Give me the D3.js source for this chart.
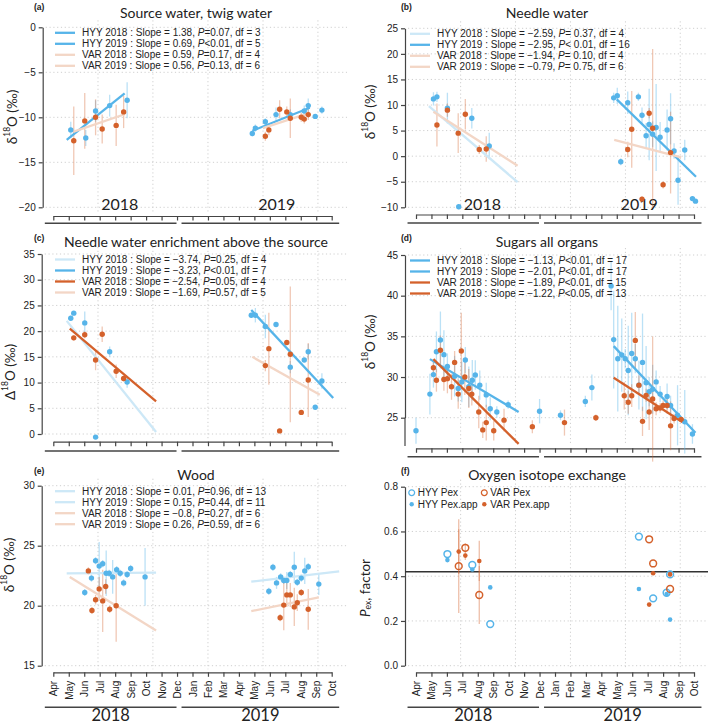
<!DOCTYPE html>
<html>
<head>
<meta charset="utf-8">
<script src="https://cdn.jsdelivr.net/npm/d3@7"></script>
<style>
  body { margin: 0; background: #fff; }
  .serif { font-family: Lato, "Open Sans", sans-serif; }
</style>
</head>
<body>
<svg id="fig" width="709" height="724"></svg>
<script>
// month axis: Apr 2018 .. Oct 2019 (month index 0..18)
const monthNames = ["Apr","May","Jun","Jul","Aug","Sep","Oct","Nov","Dec","Jan","Feb","Mar","Apr","May","Jun","Jul","Aug","Sep","Oct"];
const gridMonths = [2.89, 6.44, 10.0, 13.56, 17.11];
const yearSpans = [["2018", "2018-03-15", "2018-11-30"], ["2019", "2018-12-10", "2019-10-16"]];
const yearInside = [4.3, 14.45];

// (a) source water, twig water  [date, value, error]
const aHyy = [["2018-05-05",-11.4,0.9],["2018-06-04",-12.3,0.9],["2018-06-23",-9.3,1.2],["2018-07-21",-8.7,1.2],["2018-08-25",-8.1,2.0],
  ["2019-04-27",-11.8,0.3],["2019-05-03",-11.2,0.4],["2019-05-23",-10.5,0.4],["2019-06-13",-9.7,0.8],["2019-07-11",-9.7,0.6],
  ["2019-08-08",-9.3,0.6],["2019-08-16",-8.7,0.8],["2019-08-30",-9.9,0.2],["2019-09-12",-9.2,0.4]];
const aVar = [["2018-05-11",-12.6,3.8],["2018-06-02",-10.4,3.1],["2018-06-23",-10.0,2.0],["2018-07-06",-11.3,1.6],["2018-08-03",-10.9,2.3],["2018-08-18",-9.4,1.8],
  ["2019-05-23",-12.1,0.5],["2019-05-30",-11.4,0.6],["2019-06-20",-9.1,1.0],["2019-07-04",-9.4,0.6],["2019-07-11",-10.1,2.2],
  ["2019-08-02",-10.0,0.5],["2019-08-08",-10.2,0.5],["2019-08-16",-9.7,0.6]];
// [site, year, slope, P, df, significant, start date, start value, end date]
const aFits = [["HYY",2018,"1.38","=0.07",3,true,"2018-04-27",-12.5,"2018-08-20"],
  ["HYY",2019,"0.69","<0.01",5,true,"2019-04-27",-11.5,"2019-08-19"],
  ["VAR",2018,"0.59","=0.17",4,false,"2018-05-11",-11.6,"2018-08-20"],
  ["VAR",2019,"0.56","=0.13",6,false,"2019-05-18",-11.2,"2019-08-19"]];

// (b) needle water
const bHyy = [["2018-05-05",11.2,1.3],["2018-05-12",11.6,1.0],["2018-06-02",9.4,3.0],["2018-06-24",-9.9,0.5],["2018-07-20",7.4,2.0],["2018-08-24",2.0,2.6],
  ["2019-04-25",11.4,1.0],["2019-05-02",11.8,1.6],["2019-05-09",-1.1,0.7],["2019-05-23",10.45,2.2],["2019-06-13",11.6,0.8],["2019-06-20",8.0,1.5],
  ["2019-06-28",4.0,2.5],["2019-07-04",6.2,7.0],["2019-07-11",4.3,2.5],["2019-07-18",5.6,8.5],["2019-07-26",3.7,3.0],["2019-08-09",5.1,4.0],
  ["2019-08-16",7.3,5.0],["2019-08-23",1.0,1.5],["2019-08-31",-4.7,4.8],["2019-09-13",1.2,2.0],["2019-09-28",-8.3,0.3],["2019-10-04",-8.8,0.3]];
const bVar = [["2018-05-12",6.1,4.2],["2018-06-02",9.0,1.3],["2018-06-23",4.5,3.9],["2018-07-07",8.2,3.0],["2018-08-04",1.3,0.9],["2018-08-18",1.4,2.5],
  ["2019-05-23",1.3,1.5],["2019-05-31",5.25,7.5],["2019-06-20",-8.4,0.5],["2019-07-04",8.4,1.0],["2019-07-11",5.45,15.5],
  ["2019-08-01",-5.6,0.7],["2019-08-16",0.7,8.0]];
const bFits = [["HYY",2018,"\u22122.59","= 0.37",4,false,"2018-04-26",9.8,"2018-10-19"],
  ["HYY",2019,"\u22122.95","< 0.01",16,true,"2019-05-01",11.1,"2019-10-05"],
  ["VAR",2018,"\u22121.94","= 0.10",4,false,"2018-05-05",8.7,"2018-10-19"],
  ["VAR",2019,"\u22120.79","= 0.75",6,false,"2019-04-26",3.2,"2019-09-06"]];

// (c) needle water enrichment above the source
const cHyy = [["2018-05-05",22.5,0.5],["2018-05-11",23.5,0.4],["2018-06-02",21.6,2.2],["2018-06-23",-0.6,0.3],["2018-07-21",16.0,1.0],["2018-08-25",10.1,1.1],
  ["2019-04-25",23.1,0.5],["2019-05-03",23.1,1.4],["2019-05-23",20.9,2.3],["2019-06-13",21.3,0.4],["2019-07-11",13.0,1.2],
  ["2019-08-08",14.4,0.3],["2019-08-16",16.0,1.5],["2019-08-30",5.2,0.3],["2019-09-12",10.3,1.5]];
const cVar = [["2018-05-11",18.7,0.5],["2018-06-02",19.3,0.7],["2018-06-23",14.4,2.0],["2018-07-06",19.4,1.5],["2018-08-03",12.2,1.3],["2018-08-18",10.8,0.6],
  ["2019-05-23",13.3,1.1],["2019-05-30",16.6,7.0],["2019-06-20",0.6,0.3],["2019-07-04",17.8,0.4],["2019-07-11",15.5,13.2],
  ["2019-08-02",4.2,0.3],["2019-08-16",10.5,7.2]];
const cFits = [["HYY",2018,"\u22123.74","=0.25",4,false,"2018-04-27",22.0,"2018-10-21"],
  ["HYY",2019,"\u22123.23","<0.01",7,true,"2019-04-25",24.1,"2019-10-04"],
  ["VAR",2018,"\u22122.54","=0.05",4,true,"2018-05-03",20.5,"2018-10-21"],
  ["VAR",2019,"\u22121.69","=0.57",5,false,"2019-04-27",15.0,"2019-09-08"]];

// (d) sugars all organs
const dHyy = [["2018-04-01",23.4,1.6],["2018-04-28",27.9,2.5],["2018-05-05",30.3,1.6],["2018-05-11",33.1,2.5],["2018-05-19",34.55,3.5],
  ["2018-05-26",32.75,3.0],["2018-06-02",31.3,1.6],["2018-06-16",30.1,2.5],["2018-06-23",28.6,1.6],["2018-06-30",29.4,2.5],
  ["2018-07-07",32.1,1.6],["2018-07-14",28.8,2.5],["2018-07-21",29.6,2.5],["2018-07-27",30.25,1.8],["2018-08-05",29.0,1.8],
  ["2018-08-18",27.8,1.5],["2018-08-26",26.1,1.4],["2018-09-08",25.7,0.7],["2018-09-30",26.6,0.5],
  ["2018-12-01",25.8,1.5],["2019-01-12",25.3,0.6],["2019-02-28",27.0,0.7],["2019-03-13",28.7,1.6],
  ["2019-04-20",41.2,3.0],["2019-04-25",34.6,6.0],["2019-05-03",32.25,6.5],["2019-05-11",32.7,4.5],["2019-05-18",32.25,1.2],
  ["2019-05-24",30.8,5.5],["2019-05-31",32.9,5.0],["2019-06-07",32.25,1.8],["2019-06-14",29.0,3.0],["2019-06-21",31.8,6.0],
  ["2019-06-28",29.3,4.5],["2019-07-04",28.2,1.8],["2019-07-11",28.5,3.0],["2019-07-18",29.4,1.4],["2019-07-26",27.9,1.0],
  ["2019-08-09",27.6,1.6],["2019-08-16",26.5,1.2],["2019-08-30",25.3,3.7],["2019-09-13",24.5,3.9],["2019-09-28",23.0,1.2]];
const dVar = [["2018-05-05",31.15,0.8],["2018-05-11",29.6,1.4],["2018-05-19",33.3,1.8],["2018-05-26",29.7,1.4],["2018-06-02",29.8,1.8],
  ["2018-06-10",28.8,1.6],["2018-06-16",31.8,1.4],["2018-06-23",27.9,1.8],["2018-06-29",33.2,4.7],["2018-07-06",30.0,2.2],
  ["2018-07-14",28.6,2.4],["2018-07-20",27.9,1.4],["2018-08-03",25.7,2.0],["2018-08-11",23.5,1.0],["2018-08-18",24.4,2.2],
  ["2018-09-02",23.4,1.2],["2018-09-22",24.7,1.4],
  ["2018-11-17",23.9,0.8],["2019-01-20",24.4,1.6],["2019-03-21",25.0,0.4],
  ["2019-05-16",27.7,1.7],["2019-05-24",26.9,1.4],["2019-05-31",27.7,1.4],["2019-06-07",34.5,3.5],["2019-06-14",29.0,1.2],
  ["2019-06-21",24.55,1.8],["2019-06-28",27.75,0.8],["2019-07-04",25.7,2.2],["2019-07-11",27.3,7.7],["2019-07-18",26.1,0.8],
  ["2019-07-26",26.2,0.6],["2019-08-01",26.5,0.6],["2019-08-09",26.5,1.0],["2019-08-16",24.0,3.0],["2019-08-23",24.9,0.6],["2019-09-06",24.8,0.3]];
const dFits = [["HYY",2018,"\u22121.13","<0.01",17,true,"2018-04-28",32.2,"2018-10-21"],
  ["HYY",2019,"\u22122.01","<0.01",17,true,"2019-04-25",33.8,"2019-10-04"],
  ["VAR",2018,"\u22121.89","<0.01",15,true,"2018-05-05",32.2,"2018-10-21"],
  ["VAR",2019,"\u22121.22","<0.05",13,true,"2019-04-25",29.9,"2019-09-09"]];

// (e) wood
const eHyy = [["2018-06-02",21.1,0.3],["2018-06-15",22.3,0.3],["2018-06-23",23.75,0.3],["2018-06-30",23.3,2.0],["2018-07-07",23.5,0.3],
  ["2018-07-14",22.7,1.9],["2018-07-20",22.7,0.3],["2018-07-27",22.4,1.4],["2018-08-04",23.0,0.3],["2018-08-11",22.7,0.3],
  ["2018-08-18",21.9,0.3],["2018-08-25",22.6,0.3],["2018-09-01",23.1,0.3],["2018-09-29",22.4,2.4],
  ["2019-05-30",21.2,0.3],["2019-06-07",23.2,0.3],["2019-06-14",21.9,0.5],["2019-06-22",22.4,0.3],["2019-06-28",22.1,0.3],
  ["2019-07-04",22.1,0.7],["2019-07-11",22.6,0.3],["2019-07-19",23.2,1.3],["2019-07-25",21.95,0.3],["2019-08-02",22.3,0.3],
  ["2019-08-09",22.9,1.1],["2019-08-16",23.25,0.3],["2019-09-06",21.8,0.9]];
const eVar = [["2018-06-09",22.9,0.3],["2018-06-16",19.6,0.3],["2018-06-23",20.5,0.4],["2018-06-30",21.4,1.0],["2018-07-07",20.4,2.6],
  ["2018-07-13",21.6,0.6],["2018-07-21",19.7,0.3],["2018-08-03",20.0,3.0],
  ["2019-06-21",19.0,0.3],["2019-06-28",20.05,2.1],["2019-07-04",20.9,1.0],["2019-07-11",20.9,1.0],["2019-07-19",19.9,1.6],
  ["2019-07-25",20.25,0.7],["2019-08-02",21.1,0.3],["2019-08-16",19.7,1.7]];
const eFits = [["HYY",2018,"0.01","=0.96",13,false,"2018-04-27",22.7,"2018-10-21"],
  ["HYY",2019,"0.15","=0.44",11,false,"2019-04-25",22.0,"2019-10-16"],
  ["VAR",2018,"\u22120.8","=0.27",6,false,"2018-05-03",22.4,"2018-10-21"],
  ["VAR",2019,"0.26","=0.59",6,false,"2019-04-25",19.55,"2019-09-06"]];

// (f) oxygen isotope exchange
const fHyyPex = [["2018-06-02",0.499],["2018-07-21",0.45],["2018-08-26",0.186],["2019-06-14",0.577],["2019-07-12",0.301],["2019-08-08",0.326],["2019-08-15",0.408]];
const fHyyApp = [["2018-06-02",0.472],["2018-07-21",0.43],["2018-08-26",0.35],["2019-06-14",0.343],["2019-08-08",0.32],["2019-08-15",0.206]];
const fVarPex = [["2018-06-24",0.445,0.21],["2018-07-07",0.527,0.02],["2018-08-04",0.316,0.13],["2019-07-04",0.565,0],["2019-07-12",0.457,0],["2019-08-15",0.343,0]];
const fVarApp = [["2018-06-24",0.51,0.1],["2018-07-07",0.492,0.02],["2018-08-04",0.468,0.09],["2019-07-04",0.273,0],["2019-07-12",0.413,0],["2019-08-15",0.408,0]];
const pexMean = 0.42;

const BLUE = "#56B4E9", ORANGE = "#D4612B";
const BLUE_L = "#CDE8F7", ORANGE_L = "#F3D6C6";
const SANS = "'Liberation Sans', Arial, sans-serif";

// fractional month index from Apr 2018
function mi(s) {
  const [Y, M, D] = s.split("-").map(Number);
  const dim = new Date(Y, M, 0).getDate();
  return (Y - 2018) * 12 + (M - 4) + (D - 1) / dim;
}
function num(s) { return +String(s).replace("\u2212", "-"); }

const svg = d3.select("#fig");

function yLabel(g, p) {
  const t = g.append("text").attr("class", "serif")
    .attr("transform", `translate(${p.lx},${p.ly}) rotate(-90)`)
    .attr("text-anchor", "middle").attr("dominant-baseline", "central")
    .attr("font-size", 13.5).attr("fill", "#222");
  if (p.lab === "pex") {
    t.append("tspan").attr("font-style", "italic").text("P");
    t.append("tspan").attr("font-size", 8.5).attr("dy", 3).text("ex");
    t.append("tspan").attr("dy", -3).text(", factor");
  } else {
    t.append("tspan").text(p.lab);
    t.append("tspan").attr("font-size", 8.5).attr("dy", -5).text("18");
    t.append("tspan").attr("dy", 5).text("O (\u2030)");
  }
}

function drawPanel(p) {
  const x = d3.scaleLinear().domain([0, 18]).range(p.col ? [416, 694] : [53.3, 331.7]);
  const y = d3.scaleLinear().domain(p.yd).range(p.yr);
  const right = p.col ? 708 : 347;
  const g = svg.append("g");

  // dotted grid
  g.append("g").selectAll("line").data(p.yt).enter().append("line")
    .attr("x1", p.ax + 3).attr("x2", right)
    .attr("y1", d => y(d)).attr("y2", d => y(d))
    .attr("stroke", "#cfcfcf").attr("stroke-dasharray", "1.2,2.6");
  g.append("g").selectAll("line").data(gridMonths).enter().append("line")
    .attr("x1", d => x(d)).attr("x2", d => x(d))
    .attr("y1", p.yr[1] - 7).attr("y2", p.xa - 3)
    .attr("stroke", "#cfcfcf").attr("stroke-dasharray", "1.2,2.6");

  // y axis
  const ya = g.append("g").attr("transform", `translate(${p.ax},0)`)
    .call(d3.axisLeft(y).tickValues(p.yt).tickSize(4).tickSizeOuter(0).tickPadding(3).tickFormat(p.fmt))
    .attr("font-family", SANS).attr("font-size", 10);
  ya.selectAll("path,line").attr("stroke", "#444").attr("stroke-width", 1.2);
  ya.selectAll("text").attr("fill", "#222");
  if (p.yExt) ya.append("line").attr("y1", y(p.yd[0])).attr("y2", p.yExt).attr("stroke", "#444").attr("stroke-width", 1.2);

  // month axis
  const xa = g.append("g").attr("transform", `translate(0,${p.xa})`)
    .call(d3.axisBottom(x).tickValues(d3.range(19)).tickSize(4.5).tickSizeOuter(0)
      .tickFormat(p.months ? (d => monthNames[d]) : (() => "")))
    .attr("font-family", SANS).attr("font-size", 10);
  xa.selectAll("path,line").attr("stroke", "#444").attr("stroke-width", 1.2);
  if (p.months) {
    xa.selectAll("text").attr("transform", "rotate(-90)").attr("x", -8.5).attr("y", 0)
      .attr("dy", "0.35em").attr("text-anchor", "end").attr("fill", "#222");
  }

  // year brackets
  g.append("g").selectAll("line").data(yearSpans).enter().append("line")
    .attr("x1", d => x(mi(d[1]))).attr("x2", d => x(mi(d[2])))
    .attr("y1", p.br).attr("y2", p.br)
    .attr("stroke", "#444").attr("stroke-width", 1.4);
  if (p.months) {
    g.append("g").selectAll("text").data(yearSpans).enter().append("text").attr("class", "serif")
      .attr("x", d => x((mi(d[1]) + mi(d[2])) / 2)).attr("y", 720.5)
      .attr("text-anchor", "middle").attr("font-size", 16.5).attr("fill", "#222")
      .text(d => d[0]);
  }
  if (p.inYears) {
    g.append("g").selectAll("text").data(yearSpans).enter().append("text").attr("class", "serif")
      .attr("x", (d, i) => x(yearInside[i])).attr("y", p.inYears)
      .attr("text-anchor", "middle").attr("font-size", 16).attr("fill", "#222")
      .text(d => d[0]);
  }

  // title and tag
  g.append("text").attr("class", "serif").attr("x", p.col ? 547 : 196).attr("y", p.ty)
    .attr("text-anchor", "middle").attr("font-size", 14).attr("fill", "#222").text(p.title);
  g.append("text").attr("x", p.col ? 401 : 34).attr("y", p.tagY)
    .attr("font-family", SANS).attr("font-weight", "bold").attr("font-size", 8.5).attr("fill", "#222").text(p.tag);
  yLabel(g, p);

  if (p.pex) { drawPex(g, p, x, y); return; }

  // error bars and points
  const siteCol = { HYY: BLUE, VAR: ORANGE };
  p.series.forEach(([data, site]) => {
    g.append("g").selectAll("line").data(data.filter(d => d[2] > 0)).enter().append("line")
      .attr("x1", d => x(mi(d[0]))).attr("x2", d => x(mi(d[0])))
      .attr("y1", d => y(d[1] - d[2])).attr("y2", d => y(d[1] + d[2]))
      .attr("stroke", siteCol[site]).attr("stroke-opacity", site === "HYY" ? 0.4 : 0.35).attr("stroke-width", 1.3);
  });

  // regression lines
  const fitCol = f => f[0] === "HYY" ? (f[5] ? BLUE : BLUE_L) : (f[5] ? ORANGE : ORANGE_L);
  g.append("g").selectAll("line").data(p.fits).enter().append("line")
    .attr("x1", f => x(mi(f[6]))).attr("x2", f => x(mi(f[8])))
    .attr("y1", f => y(f[7]))
    .attr("y2", f => y(f[7] + num(f[2]) * (mi(f[8]) - mi(f[6]))))
    .attr("stroke", fitCol).attr("stroke-width", 2.3);

  p.series.forEach(([data, site]) => {
    g.append("g").selectAll("circle").data(data).enter().append("circle")
      .attr("cx", d => x(mi(d[0]))).attr("cy", d => y(d[1])).attr("r", 2.7)
      .attr("fill", siteCol[site]);
  });

  // legend
  const lx = p.col ? 410 : 55;
  const rows = g.append("g").selectAll("g").data(p.fits).enter().append("g")
    .attr("transform", (f, i) => `translate(${lx},${p.yr[1] + 5.5 + i * 11})`);
  rows.append("line").attr("x1", 0).attr("x2", 20).attr("stroke", fitCol).attr("stroke-width", 2.3);
  const lt = rows.append("text").attr("x", 27).attr("dy", "0.35em")
    .attr("font-family", SANS).attr("font-size", 10).attr("fill", "#222");
  lt.append("tspan").text(f => `${f[0]} ${f[1]} : Slope = ${f[2]}, `);
  lt.append("tspan").attr("font-style", "italic").text("P");
  lt.append("tspan").text(f => `${f[3]}, df = ${f[4]}`);
}

function drawPex(g, p, x, y) {
  g.append("line").attr("x1", p.ax).attr("x2", 708).attr("y1", y(pexMean)).attr("y2", y(pexMean))
    .attr("stroke", "#333").attr("stroke-width", 1.6);
  [fVarPex, fVarApp].forEach(data => {
    g.append("g").selectAll("line").data(data.filter(d => d[2] > 0)).enter().append("line")
      .attr("x1", d => x(mi(d[0]))).attr("x2", d => x(mi(d[0])))
      .attr("y1", d => y(d[1] - d[2])).attr("y2", d => y(d[1] + d[2]))
      .attr("stroke", ORANGE).attr("stroke-opacity", 0.4).attr("stroke-width", 1.3);
  });
  const open = [[fHyyPex, BLUE], [fVarPex, ORANGE]];
  const full = [[fHyyApp, BLUE], [fVarApp, ORANGE]];
  open.forEach(([data, c]) => {
    g.append("g").selectAll("circle").data(data).enter().append("circle")
      .attr("cx", d => x(mi(d[0]))).attr("cy", d => y(d[1])).attr("r", 3.4)
      .attr("fill", "none").attr("stroke", c).attr("stroke-width", 1.5);
  });
  full.forEach(([data, c]) => {
    g.append("g").selectAll("circle").data(data).enter().append("circle")
      .attr("cx", d => x(mi(d[0]))).attr("cy", d => y(d[1])).attr("r", 2.3).attr("fill", c);
  });
  // legend
  const items = [["HYY Pex", BLUE, true, 0, 0], ["HYY Pex.app", BLUE, false, 0, 1],
                 ["VAR Pex", ORANGE, true, 1, 0], ["VAR Pex.app", ORANGE, false, 1, 1]];
  const it = g.append("g").selectAll("g").data(items).enter().append("g")
    .attr("transform", d => `translate(${d[3] ? 484.3 : 411.7},${492.7 + d[4] * 11.6})`);
  it.append("circle").attr("r", d => d[2] ? 2.9 : 2.2)
    .attr("fill", d => d[2] ? "none" : d[1]).attr("stroke", d => d[2] ? d[1] : "none").attr("stroke-width", 1.3);
  it.append("text").attr("x", 6).attr("dy", "0.35em").attr("font-family", SANS)
    .attr("font-size", 10).attr("fill", "#222").text(d => d[0]);
}

const signed = d => d < 0 ? "\u2212" + Math.abs(d) : String(d);

const panels = [
  { tag: "(a)", tagY: 9.5, title: "Source water, twig water", ty: 17.5, col: 0, ax: 42.7, yr: [207.3, 27.3], yd: [-20, 0],
    yt: d3.range(-20, 1, 5), fmt: signed, xa: 216, br: 223.3, inYears: 210, lab: "\u03B4", lx: 12, ly: 117,
    series: [[aHyy, "HYY"], [aVar, "VAR"]], fits: aFits },
  { tag: "(b)", tagY: 9.5, title: "Needle water", ty: 17.5, col: 1, ax: 405, yr: [207.3, 28.3], yd: [-10, 25],
    yt: d3.range(-10, 26, 5), fmt: signed, xa: 214.5, br: 223, inYears: 209.5, lab: "\u03B4", lx: 370, ly: 112,
    series: [[bHyy, "HYY"], [bVar, "VAR"]], fits: bFits },
  { tag: "(c)", tagY: 241, title: "Needle water enrichment above the source", ty: 247, col: 0, ax: 41.7, yr: [434, 254], yd: [0, 35],
    yt: d3.range(0, 36, 5), fmt: signed, xa: 441.7, br: 451, lab: "\u0394", lx: 10, ly: 372,
    series: [[cHyy, "HYY"], [cVar, "VAR"]], fits: cFits },
  { tag: "(d)", tagY: 241, title: "Sugars all organs", ty: 247, col: 1, ax: 405, yr: [417.7, 255], yd: [25, 45],
    yt: d3.range(25, 46, 5), fmt: signed, xa: 448.3, br: 456.7, yExt: 446, lab: "\u03B4", lx: 370, ly: 342,
    series: [[dHyy, "HYY"], [dVar, "VAR"]], fits: dFits },
  { tag: "(e)", tagY: 474, title: "Wood", ty: 480, col: 0, ax: 41.7, yr: [665.7, 485.7], yd: [15, 30],
    yt: [15, 20, 25, 30], fmt: signed, xa: 672.3, br: 707.3, months: true, lab: "\u03B4", lx: 9, ly: 565,
    series: [[eHyy, "HYY"], [eVar, "VAR"]], fits: eFits },
  { tag: "(f)", tagY: 474, title: "Oxygen isotope exchange", ty: 480, col: 1, ax: 405, yr: [665.7, 486.7], yd: [0, 0.8],
    yt: [0, 0.2, 0.4, 0.6, 0.8], fmt: d3.format(".1f"), xa: 672.3, br: 707.3, months: true, lab: "pex", lx: 365, ly: 588,
    pex: true }
];

panels.forEach(drawPanel);
</script>
</body>
</html>
